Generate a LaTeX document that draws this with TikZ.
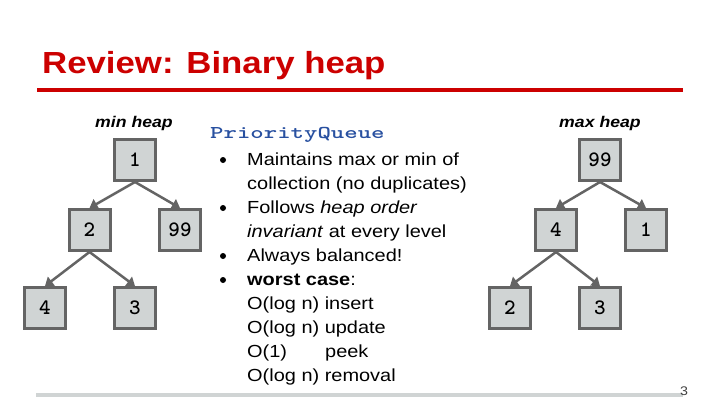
\documentclass[tikz,border=0pt]{standalone}
\usepackage{fontspec}
\setmainfont[FakeStretch=1.14]{Liberation Sans}
\usetikzlibrary{arrows.meta}
\definecolor{titlered}{RGB}{204,0,0}
\definecolor{boxfill}{RGB}{208,212,212}
\definecolor{boxline}{RGB}{100,100,100}
\definecolor{codeblue}{RGB}{40,80,160}
\definecolor{rulegray}{RGB}{208,212,212}

\tikzset{
  heapnode/.style={draw=boxline, fill=boxfill, line width=3pt, minimum size=41pt,
    inner sep=0pt, font=\ttfamily\bfseries\fontsize{22}{22}\selectfont},
  heapedge/.style={draw=boxline, line width=2.5pt, -{Triangle[width=11pt,length=8pt]}},
  bodytext/.style={anchor=base west, inner sep=0pt, font=\fontsize{17.5}{20}\selectfont},
  heaplabel/.style={anchor=base, inner sep=0pt, font=\fontsize{15.5}{18}\selectfont\bfseries\itshape},
  bulletdot/.style={circle, fill=black, inner sep=0pt, minimum size=6pt},
}

\begin{document}
\begin{tikzpicture}[x=1pt,y=-1pt]
\useasboundingbox (0,0) rectangle (720,405);

% title and rules
\node[anchor=base west, inner sep=0pt, text=titlered,
  font=\fontsize{30.5}{34}\selectfont\bfseries] (title) at (42,73) {Review: Binary heap};
\coordinate (redL) at (37,89.5);
\coordinate (redR) at (683,89.5);
\draw[titlered, line width=4pt] (redL) -- (redR);
\coordinate (grayL) at (36,395);
\coordinate (grayR) at (683,395);
\draw[rulegray, line width=4.5pt] (grayL) -- (grayR);
\node[anchor=base west, inner sep=0pt, text=black!75, font=\fontsize{12.5}{14}\selectfont] (pagenum) at (680,395) {3};

% min heap
\node[heaplabel] (minlabel) at (134,127) {min heap};
\node[heapnode] (min1) at (135,160) {1};
\node[heapnode] (min2) at (89.5,230) {2};
\node[heapnode] (min99) at (180,230) {99};
\node[heapnode] (min4) at (45,308) {4};
\node[heapnode] (min3) at (135,308) {3};
\draw[heapedge] (min1.south) -- (min2.north);
\draw[heapedge] (min1.south) -- (min99.north);
\draw[heapedge] (min2.south) -- (min4.north);
\draw[heapedge] (min2.south) -- (min3.north);

% max heap
\node[heaplabel] (maxlabel) at (600,127) {max heap};
\node[heapnode] (max99) at (600,160) {99};
\node[heapnode] (max4) at (556,230) {4};
\node[heapnode] (max1) at (646,230) {1};
\node[heapnode] (max2) at (510,308) {2};
\node[heapnode] (max3) at (600,308) {3};
\draw[heapedge] (max99.south) -- (max4.north);
\draw[heapedge] (max99.south) -- (max1.north);
\draw[heapedge] (max4.south) -- (max2.north);
\draw[heapedge] (max4.south) -- (max3.north);

% middle text
\node[anchor=base west, inner sep=0pt, text=codeblue,
  font=\ttfamily\bfseries\fontsize{18}{20}\selectfont] (pq) at (210,138) {\scalebox{1.42}[1]{PriorityQueue}};
\node[bulletdot] (b1) at (223,160) {};
\node[bulletdot] (b2) at (223,208) {};
\node[bulletdot] (b3) at (223,256) {};
\node[bulletdot] (b4) at (223,280) {};
\node[bodytext] (t1) at (247,165) {Maintains max or min of};
\node[bodytext] (t2) at (247,189) {collection (no duplicates)};
\node[bodytext] (t3) at (247,213) {Follows \textit{heap order}};
\node[bodytext] (t4) at (247,237) {\textit{invariant} at every level};
\node[bodytext] (t5) at (247,261) {Always balanced!};
\node[bodytext] (t6) at (247,285) {\textbf{worst case}:};
\node[bodytext] (t7) at (247,309) {O(log n) insert};
\node[bodytext] (t8) at (247,333) {O(log n) update};
\node[bodytext] (t9) at (247,357) {O(1)};
\node[bodytext] (t9b) at (325,357) {peek};
\node[bodytext] (t10) at (247,381) {O(log n) removal};
\end{tikzpicture}
\end{document}
